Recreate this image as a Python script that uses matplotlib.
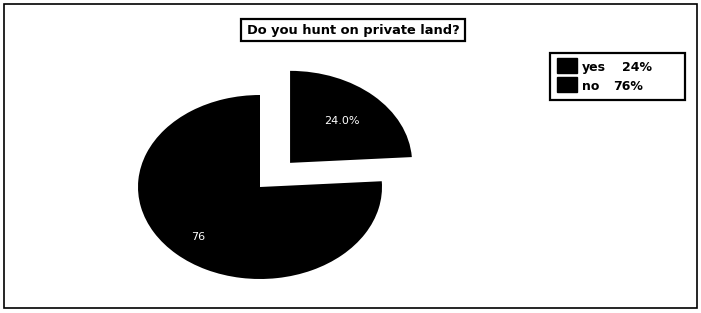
import numpy as np
import matplotlib
matplotlib.use("Agg")
import matplotlib.pyplot as plt
from matplotlib.patches import Rectangle

categories = ["yes", "no"]
values = [24, 76]
legend_pct = ["24%", "76%"]
title = "Do you hunt on private land?"

W, H = 701, 313
fig = plt.figure(figsize=(W / 100, H / 100), dpi=100)
fig.patch.set_facecolor("white")


def px_rect(x0, y0, x1, y1, **kw):
    """Rectangle given in pixel coords (y from top)."""
    fig.patches.append(Rectangle((x0 / W, 1 - y1 / H), (x1 - x0) / W, (y1 - y0) / H,
                                 transform=fig.transFigure, **kw))


# outer frame
px_rect(4, 4, 697, 308, fill=False, edgecolor="black", linewidth=1.2)

# pie axes: unit circle -> ellipse rx=122px, ry=92px centred at (260,187)
cx, cy, rx, ry = 260, 187, 122, 92
a, b = 1.6, 1.6
aw, ah = 2 * a * rx, 2 * b * ry
left = (cx - aw / 2) / W
bottom = (H - cy - ah / 2) / H
ax = fig.add_axes([left, bottom, aw / W, ah / H])
wedges, _ = ax.pie(values, explode=[0.36, 0], startangle=90, counterclock=False,
                   colors=["black", "black"], wedgeprops=dict(linewidth=0))
ax.set_aspect("auto")
ax.set_xlim(-a, a)
ax.set_ylim(-b, b)
ax.axis("off")

# slice labels
label_txt = ["24.0%", "76"]
label_r = [0.62, 0.74]
for w, t, r in zip(wedges, label_txt, label_r):
    mid = np.deg2rad((w.theta1 + w.theta2) / 2)
    x0, y0 = w.center
    ax.text(x0 + r * np.cos(mid), y0 + r * np.sin(mid), t, color="white",
            ha="center", va="center", fontsize=8, family="DejaVu Sans")

# title box
px_rect(241, 19, 465, 41, fill=False, edgecolor="black", linewidth=1.6)
fig.text(353.5 / W, 1 - 30.5 / H, title, ha="center", va="center", fontsize=9.4,
         fontweight="bold", family="DejaVu Sans")

# legend (drawn by hand for exact box size)
px_rect(550, 53, 685, 100, fill=False, edgecolor="black", linewidth=1.6)
pct_x = [622, 613]
for i, (c, p) in enumerate(zip(categories, legend_pct)):
    yc = 66 + i * 19
    px_rect(557, yc - 8, 577, yc + 7, facecolor="black", edgecolor="black")
    base = 1 - (yc + 5) / H
    fig.text(582 / W, base, c, ha="left", va="baseline", fontsize=9,
             fontweight="bold", family="DejaVu Sans")
    fig.text(pct_x[i] / W, base, p, ha="left", va="baseline", fontsize=9,
             fontweight="bold", family="DejaVu Sans")

fig.savefig("out.png", dpi=100, facecolor="white")
